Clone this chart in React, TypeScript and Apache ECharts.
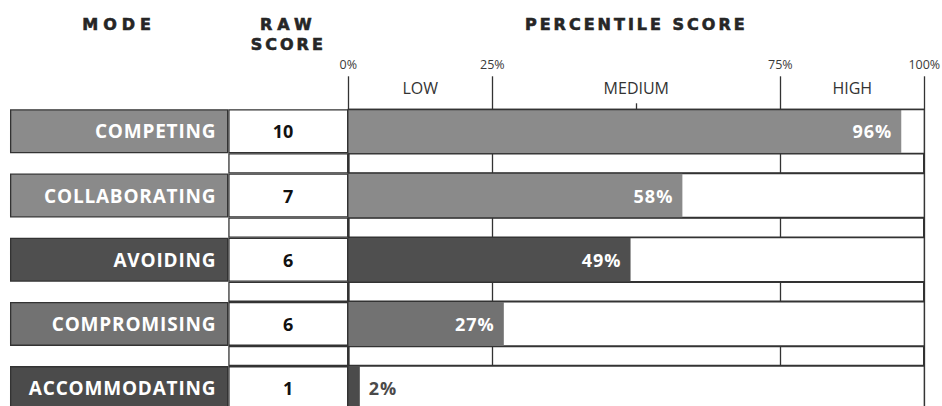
import React, { useEffect, useRef } from "react";
import * as echarts from "echarts";

const modes = ["COMPETING", "COLLABORATING", "AVOIDING", "COMPROMISING", "ACCOMMODATING"];
const rawScores = [10, 7, 6, 6, 1];
const percentiles = [96, 58, 49, 27, 2];
const modeShades = ["#8b8b8b", "#8a8a8a", "#4f4f4f", "#727272", "#4b4b4b"];
const percentTicks = [0, 25, 75, 100];
const bandNames = ["LOW", "MEDIUM", "HIGH"];
const bandCenters = [12.5, 50, 87.5];
const bandDividers = [50];

const LINE = "#333333";
const ROW_H = 44;
const GAP_H = 20.2;
const TOP = 109.3;
const HEIGHT = (ROW_H + GAP_H) * modes.length;
const CELL_FONT = "'Open Sans', 'Noto Sans', sans-serif";
const HEAD_FONT = "'DejaVu Sans', sans-serif";

// letter spacing (px) applied to the rendered SVG texts
const headerSpacing: Record<string, number> = {
  MODE: 5,
  RAW: 5,
  SCORE: 3,
  "PERCENTILE SCORE": 3,
};

export default function App() {
  const ref = useRef<HTMLDivElement>(null);
  useEffect(() => {
    if (!ref.current) return;
    const el = ref.current;
    const chart = echarts.init(el, undefined, { renderer: "svg" });
    const headName = {
      nameLocation: "middle",
      nameTextStyle: {
        fontFamily: HEAD_FONT,
        fontWeight: "bold",
        fontSize: 16,
        color: "#262626",
        lineHeight: 20,
        textBorderColor: "#262626",
        textBorderWidth: 0.6,
      },
    };
    const hiddenX = {
      axisLine: { show: false },
      axisTick: { show: false },
      axisLabel: { show: false },
      splitLine: { show: false },
    };
    const yCat = (gridIndex: number) => ({
      type: "category",
      gridIndex,
      data: modes,
      inverse: true,
      show: false,
    });
    const gridBase = { top: TOP, height: HEIGHT, containLabel: false, outerBoundsMode: "none" };
    chart.setOption({
      animation: false,
      grid: [
        { ...gridBase, left: 10, width: 218.3 },
        { ...gridBase, left: 228.3, width: 120 },
        { ...gridBase, left: 348.3, width: 576 },
      ],
      xAxis: [
        { type: "value", gridIndex: 0, min: 0, max: 1, position: "top", name: "MODE", nameGap: 75, ...headName, ...hiddenX },
        { type: "value", gridIndex: 1, min: 0, max: 1, position: "top", name: "RAW\nSCORE", nameGap: 55, ...headName, ...hiddenX },
        {
          type: "value",
          gridIndex: 2,
          min: 0,
          max: 100,
          interval: 25,
          position: "top",
          name: "PERCENTILE SCORE",
          nameGap: 75,
          ...headName,
          axisLine: { show: false },
          axisTick: { show: true, customValues: percentTicks, length: 33, lineStyle: { color: LINE, width: 1.3 } },
          axisLabel: {
            show: true,
            customValues: percentTicks,
            formatter: (v: number) => v + "%",
            margin: 38,
            fontFamily: CELL_FONT,
            fontSize: 12.5,
            color: "#3a3a3a",
          },
          splitLine: { show: true, lineStyle: { color: LINE, width: 1.3 } },
        },
        {
          type: "value",
          gridIndex: 2,
          min: 0,
          max: 100,
          position: "top",
          z: 10,
          axisLine: { show: true, lineStyle: { color: LINE, width: 1.3 } },
          axisTick: { show: true, customValues: bandDividers, length: 6, lineStyle: { color: LINE, width: 1.3 } },
          axisLabel: {
            show: true,
            customValues: bandCenters,
            formatter: (v: number) => bandNames[bandCenters.indexOf(v)] ?? "",
            margin: 13,
            fontFamily: CELL_FONT,
            fontSize: 16,
            color: "#333",
          },
          splitLine: { show: false },
        },
      ],
      yAxis: [yCat(0), yCat(1), yCat(2)],
      series: [
        {
          name: "percentile",
          type: "bar",
          xAxisIndex: 2,
          yAxisIndex: 2,
          barWidth: ROW_H,
          barGap: "0%",
          barCategoryGap: "0%",
          silent: true,
          showBackground: true,
          backgroundStyle: { color: "#ffffff", borderColor: LINE, borderWidth: 1.3, opacity: 1 },
          data: percentiles.map((v, i) => ({
            value: v,
            itemStyle: { color: modeShades[i] },
            label:
              v < 8
                ? { position: "right", distance: 9, color: "#4a4a4a" }
                : { position: "insideRight", distance: 9, color: "#ffffff" },
          })),
          label: {
            show: true,
            formatter: "{c}%",
            fontFamily: CELL_FONT,
            fontWeight: "bold",
            fontSize: 18,
          },
        },
        {
          name: "percentileGap",
          type: "bar",
          xAxisIndex: 2,
          yAxisIndex: 2,
          barWidth: GAP_H,
          silent: true,
          itemStyle: { color: "rgba(0,0,0,0)", borderColor: LINE, borderWidth: 1.3 },
          data: percentiles.map(() => 100),
        },
        {
          name: "raw",
          type: "bar",
          xAxisIndex: 1,
          yAxisIndex: 1,
          barWidth: ROW_H,
          barGap: "0%",
          barCategoryGap: "0%",
          silent: true,
          itemStyle: { color: "#ffffff", borderColor: LINE, borderWidth: 1.3 },
          data: rawScores.map(() => 1),
          label: {
            show: true,
            position: "insideRight",
            distance: 55,
            formatter: (p: any) => String(rawScores[p.dataIndex]),
            fontFamily: CELL_FONT,
            fontWeight: "bold",
            fontSize: 18,
            color: "#111",
          },
        },
        {
          name: "rawGap",
          type: "bar",
          xAxisIndex: 1,
          yAxisIndex: 1,
          barWidth: GAP_H,
          silent: true,
          itemStyle: { color: "rgba(0,0,0,0)", borderColor: LINE, borderWidth: 1.3 },
          data: rawScores.map(() => 1),
        },
        {
          name: "mode",
          type: "bar",
          xAxisIndex: 0,
          yAxisIndex: 0,
          barWidth: ROW_H,
          barGap: "0%",
          barCategoryGap: "0%",
          silent: true,
          itemStyle: { borderColor: LINE, borderWidth: 1.3 },
          data: modes.map((m, i) => ({ value: 1, itemStyle: { color: modeShades[i] } })),
          label: {
            show: true,
            position: "insideRight",
            distance: 12,
            formatter: "{b}",
            fontFamily: CELL_FONT,
            fontWeight: "bold",
            fontSize: 19,
            color: "#ffffff",
          },
        },
        {
          name: "modeGap",
          type: "bar",
          xAxisIndex: 0,
          yAxisIndex: 0,
          barWidth: GAP_H,
          silent: true,
          itemStyle: { color: "rgba(0,0,0,0)" },
          data: modes.map(() => 0),
        },
      ],
    });
    const applySpacing = () => {
      el.querySelectorAll("text").forEach((t) => {
        const s = (t.textContent || "").trim();
        let sp = 0;
        if (headerSpacing[s] !== undefined) sp = headerSpacing[s];
        else if (modes.includes(s)) sp = 0.8;
        else if (/^\d+%$/.test(s) && percentiles.includes(parseInt(s, 10))) sp = 1;
        if (sp) t.setAttribute("letter-spacing", sp + "px");
      });
    };
    applySpacing();
    chart.on("finished", applySpacing);
    const timer = setTimeout(applySpacing, 50);
    return () => {
      clearTimeout(timer);
      chart.dispose();
    };
  }, []);
  return (
    <div style={{ position: "absolute", left: 0, top: 0, width: 942, height: 406, overflow: "hidden", background: "#fff" }}>
      <div ref={ref} style={{ width: 942, height: 406 }} />
    </div>
  );
}
